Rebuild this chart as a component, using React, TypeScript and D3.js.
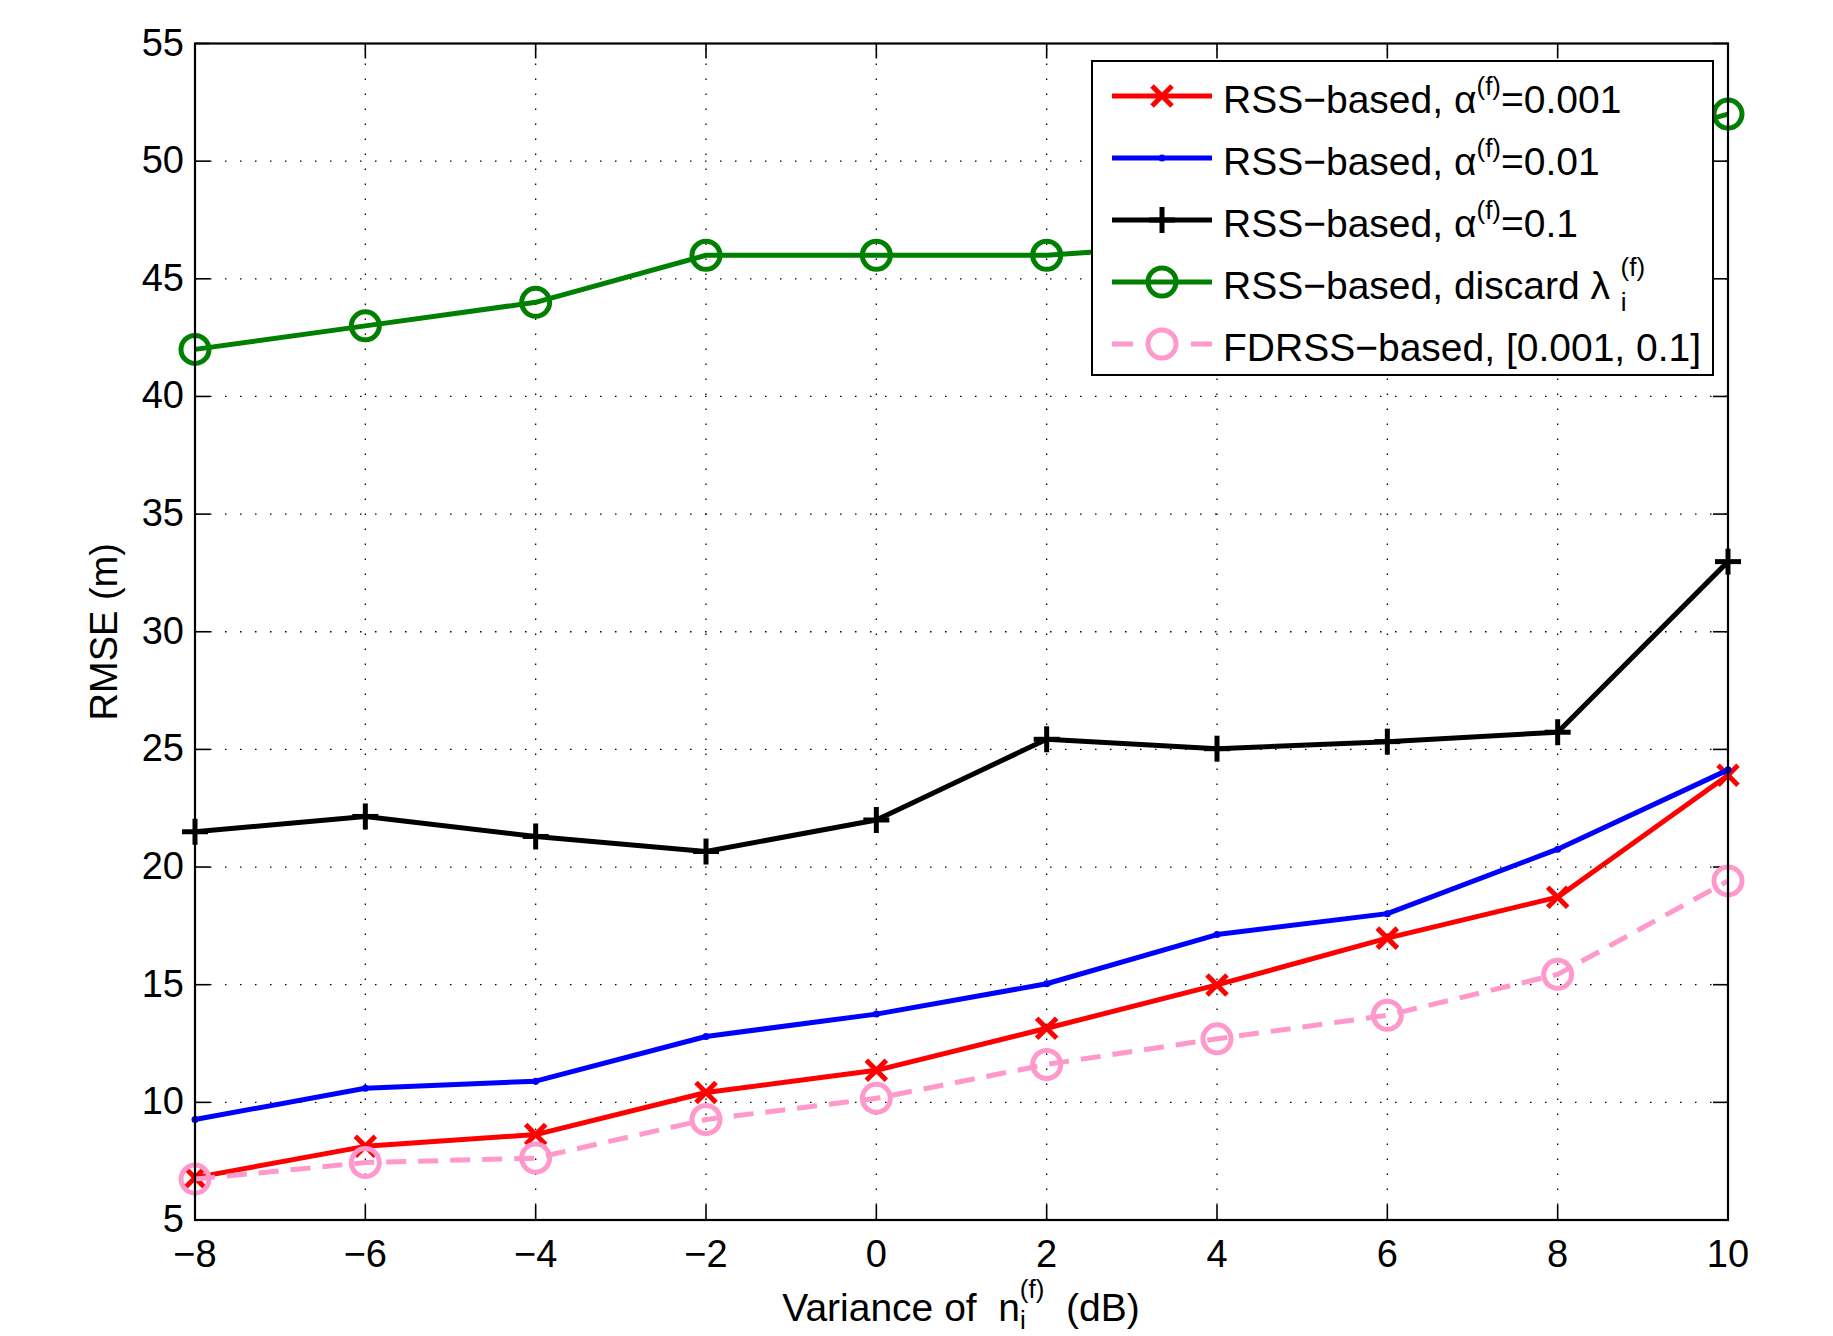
import React from 'react';
import * as d3 from 'd3';

const xValues = [-8, -6, -4, -2, 0, 2, 4, 6, 8, 10];
const redSeries = [6.8, 8.13, 8.63, 10.42, 11.36, 13.15, 14.99, 16.98, 18.72, 23.9];
const blueSeries = [9.27, 10.6, 10.9, 12.8, 13.75, 15.04, 17.13, 18.02, 20.76, 24.13];
const blackSeries = [21.5, 22.15, 21.3, 20.66, 22.0, 25.43, 25.03, 25.33, 25.73, 32.98];
const greenSeries = [42, 43, 44, 46, 46, 46, 46.5, 48, 50, 52];
const pinkSeries = [6.74, 7.44, 7.63, 9.27, 10.17, 11.61, 12.7, 13.7, 15.44, 19.41];
const xTicks = [-8, -6, -4, -2, 0, 2, 4, 6, 8, 10];
const yTicks = [5, 10, 15, 20, 25, 30, 35, 40, 45, 50, 55];

const W = 1833, H = 1336;
const L = 195, R = 1728, T = 43.5, B = 1220;
const FONT = "'Liberation Sans', Arial, Helvetica, sans-serif";
const FS = 38;
const LFS = 39;
const MINUS = '\u2212';

const fmt = (v: number) => (v < 0 ? MINUS + Math.abs(v) : String(v));

type Marker = 'x' | 'dot' | 'plus' | 'circle';

function MarkerShape({ type, cx, cy, color }: { type: Marker; cx: number; cy: number; color: string }) {
  if (type === 'x') {
    const s = 10;
    return (
      <g stroke={color} strokeWidth={5} strokeLinecap="butt">
        <line x1={cx - s} y1={cy - s} x2={cx + s} y2={cy + s} />
        <line x1={cx - s} y1={cy + s} x2={cx + s} y2={cy - s} />
      </g>
    );
  }
  if (type === 'plus') {
    const s = 13;
    return (
      <g stroke={color} strokeWidth={5}>
        <line x1={cx - s} y1={cy} x2={cx + s} y2={cy} />
        <line x1={cx} y1={cy - s} x2={cx} y2={cy + s} />
      </g>
    );
  }
  if (type === 'dot') {
    return <circle cx={cx} cy={cy} r={3.5} fill={color} />;
  }
  return <circle cx={cx} cy={cy} r={14} fill="none" stroke={color} strokeWidth={5} />;
}

export default function App() {
  const x = d3.scaleLinear().domain([-8, 10]).range([L, R]);
  const y = d3.scaleLinear().domain([5, 55]).range([B, T]);

  const series = [
    { data: redSeries, color: '#ff0000', marker: 'x' as Marker, dash: undefined as string | undefined },
    { data: blueSeries, color: '#0000ff', marker: 'dot' as Marker, dash: undefined },
    { data: blackSeries, color: '#000000', marker: 'plus' as Marker, dash: undefined },
    { data: greenSeries, color: '#008000', marker: 'circle' as Marker, dash: undefined },
    { data: pinkSeries, color: '#ff99cc', marker: 'circle' as Marker, dash: '20 12' },
  ];

  const line = d3
    .line<number>()
    .x((_, i) => x(xValues[i]))
    .y((d) => y(d));

  const legendX0 = 1092, legendY0 = 61, legendX1 = 1713, legendY1 = 375;
  const rowStep = 62;
  const lineY = (i: number) => 96 + rowStep * i;
  const baseY = (i: number) => 113 + rowStep * i;
  const sampleX0 = 1112, sampleX1 = 1212, sampleMid = 1162, textX = 1223;
  const SUP = 26;

  const legendTexts: React.ReactNode[] = [
    <>RSS{MINUS}based, {'\u03B1'}<tspan fontSize={SUP} dy={-18}>(f)</tspan><tspan dy={18}>=0.001</tspan></>,
    <>RSS{MINUS}based, {'\u03B1'}<tspan fontSize={SUP} dy={-18}>(f)</tspan><tspan dy={18}>=0.01</tspan></>,
    <>RSS{MINUS}based, {'\u03B1'}<tspan fontSize={SUP} dy={-18}>(f)</tspan><tspan dy={18}>=0.1</tspan></>,
    <>RSS{MINUS}based, discard {'\u03BB\u00A0'}<tspan fontSize={SUP} dy={12}>i</tspan><tspan fontSize={SUP} dx={-6} dy={-35}>(f)</tspan></>,
    <>FDRSS{MINUS}based, [0.001, 0.1]</>,
  ];

  return (
    <svg width={W} height={H} style={{ position: 'absolute', left: 0, top: 0, background: '#fff' }} fontFamily={FONT}>
      <rect x={0} y={0} width={W} height={H} fill="#fff" />
      {/* grid */}
      <g stroke="#000" strokeWidth={1.3} strokeDasharray="1.5 13.5">
        {xTicks.slice(1, -1).map((t) => (
          <line key={'gx' + t} x1={x(t)} x2={x(t)} y1={B} y2={T} />
        ))}
        {yTicks.slice(1, -1).map((t) => (
          <line key={'gy' + t} x1={L} x2={R} y1={y(t)} y2={y(t)} />
        ))}
      </g>
      {/* ticks */}
      <g stroke="#000" strokeWidth={1.6}>
        {xTicks.map((t) => (
          <g key={'tx' + t}>
            <line x1={x(t)} x2={x(t)} y1={B} y2={B - 15} />
            <line x1={x(t)} x2={x(t)} y1={T} y2={T + 15} />
          </g>
        ))}
        {yTicks.map((t) => (
          <g key={'ty' + t}>
            <line x1={L} x2={L + 15} y1={y(t)} y2={y(t)} />
            <line x1={R} x2={R - 15} y1={y(t)} y2={y(t)} />
          </g>
        ))}
      </g>
      {/* series */}
      {series.map((s, si) => (
        <g key={'s' + si}>
          <path d={line(s.data) || ''} fill="none" stroke={s.color} strokeWidth={5} strokeDasharray={s.dash} strokeLinejoin="round" />
          {s.data.map((v, i) => (
            <MarkerShape key={i} type={s.marker} cx={x(xValues[i])} cy={y(v)} color={s.color} />
          ))}
        </g>
      ))}
      {/* axes box */}
      <rect x={L} y={T} width={R - L} height={B - T} fill="none" stroke="#000" strokeWidth={2.2} />
      {/* tick labels */}
      <g fontSize={FS} fill="#000">
        {xTicks.map((t) => (
          <text key={'lx' + t} x={x(t)} y={1267} textAnchor="middle">{fmt(t)}</text>
        ))}
        {yTicks.map((t) => (
          <text key={'ly' + t} x={184} y={y(t) + 12} textAnchor="end">{fmt(t)}</text>
        ))}
      </g>
      {/* axis labels */}
      <text x={104} y={(T + B) / 2} fontSize={FS} textAnchor="middle" transform={`rotate(-90 104 ${(T + B) / 2})`} dy={13}>
        RMSE (m)
      </text>
      <text x={961} y={1321} fontSize={LFS} textAnchor="middle">
        {'Variance of\u00A0\u00A0n'}<tspan fontSize={SUP} dy={8}>i</tspan><tspan fontSize={SUP} dx={-6} dy={-31}>(f)</tspan><tspan dy={23}>{'\u00A0\u00A0(dB)'}</tspan>
      </text>
      {/* legend */}
      <rect x={legendX0} y={legendY0} width={legendX1 - legendX0} height={legendY1 - legendY0} fill="#fff" stroke="#000" strokeWidth={2} />
      {series.map((s, i) => (
        <g key={'lg' + i}>
          {s.dash ? (
            <g stroke={s.color} strokeWidth={5}>
              <line x1={sampleX0} x2={sampleX0 + 21} y1={lineY(i)} y2={lineY(i)} />
              <line x1={sampleX1 - 21} x2={sampleX1} y1={lineY(i)} y2={lineY(i)} />
            </g>
          ) : (
            <line x1={sampleX0} x2={sampleX1} y1={lineY(i)} y2={lineY(i)} stroke={s.color} strokeWidth={5} />
          )}
          <MarkerShape type={s.marker} cx={sampleMid} cy={lineY(i)} color={s.color} />
          <text x={textX} y={baseY(i)} fontSize={LFS}>{legendTexts[i]}</text>
        </g>
      ))}
    </svg>
  );
}
